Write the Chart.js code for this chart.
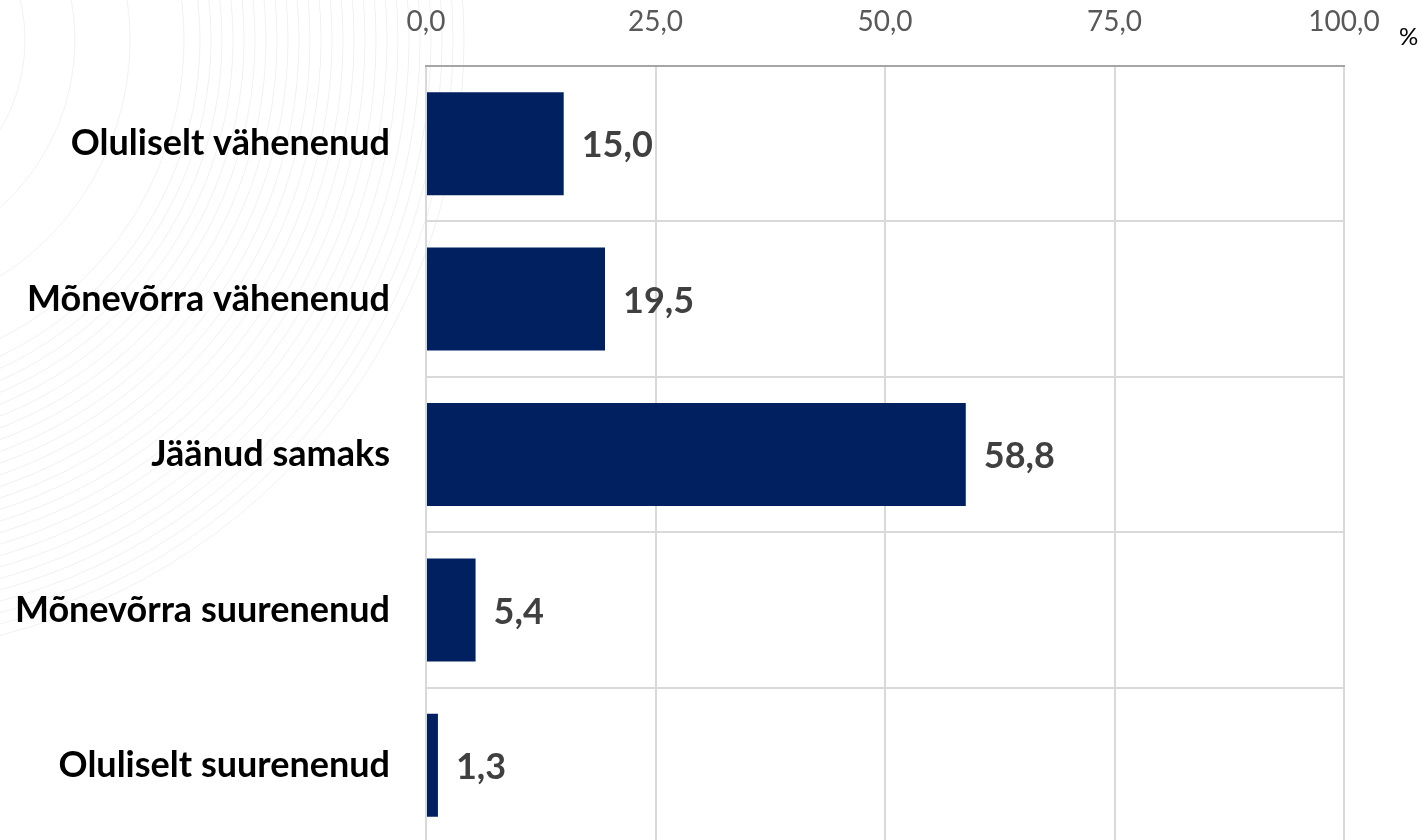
<!DOCTYPE html>
<html>
<head>
<meta charset="utf-8">
<script src="https://cdn.jsdelivr.net/npm/chart.js@4"></script>
<style>
  html, body { margin: 0; padding: 0; background: #fff; overflow: hidden; }
  canvas { display: block; }
</style>
</head>
<body>
<canvas id="bars" width="1424" height="846"></canvas>
<script>
var categories = ['Oluliselt vähenenud', 'Mõnevõrra vähenenud', 'Jäänud samaks', 'Mõnevõrra suurenenud', 'Oluliselt suurenenud'];
var values = [15.0, 19.5, 58.8, 5.4, 1.3];
var tickValues = [0, 25, 50, 75, 100];
var unitLabel = '%';

function fmt(v) {
    return v.toFixed(1).replace('.', ',');
}

// faint arcs in the background (decoration of the original slide)
var backdrop = {
    id: 'backdrop',
    beforeDraw: function(chart) {
	var c = chart.ctx;
	c.save();
	c.strokeStyle = 'rgba(0,0,0,0.06)';
	c.lineWidth = 1;
	var radii = [175, 225, 280, 334];
	for (var r = 350; r <= 620; r += 11) radii.push(r);
	radii.forEach(function(r) {
	    c.beginPath();
	    c.arc(-150, 40, r, -Math.PI / 2, Math.PI / 2);
	    c.stroke();
	});
	c.restore();
    }
};

// value labels next to bars and the % sign
var valueLabels = {
    id: 'valueLabels',
    afterDatasetsDraw: function(chart) {
	var c = chart.ctx;
	var meta = chart.getDatasetMeta(0);
	c.save();
	c.font = 'bold 36px Lato';
	c.fillStyle = '#404040';
	c.textBaseline = 'middle';
	c.textAlign = 'left';
	meta.data.forEach(function(bar, i) {
	    c.fillText(fmt(values[i]), bar.x + 18, bar.y + 2);
	});
	c.font = '24px Lato';
	c.fillStyle = '#000';
	c.fillText(unitLabel, 1399, 37);
	c.restore();
    }
};

var ctx = document.getElementById('bars');
var chart = new Chart(ctx, {
    type: 'bar',
    data: {
	labels: categories,
	datasets: [{
	    data: values,
	    backgroundColor: '#002060',
	    borderWidth: 0,
	    barPercentage: 0.663,
	    categoryPercentage: 1
	}]
    },
    options: {
	indexAxis: 'y',
	animation: false,
	responsive: false,
	layout: { padding: { left: 0, right: 80, top: 0, bottom: 3 } },
	scales: {
	    x: {
		position: 'top',
		min: 0,
		max: 100,
		afterFit: function(s) {
		    s.height = 66;
		    s.paddingLeft = 0;
		    s.paddingRight = 0;
		},
		afterBuildTicks: function(s) {
		    s.ticks = tickValues.map(function(v) { return { value: v }; });
		},
		ticks: {
		    color: '#595959',
		    font: { family: 'Lato', size: 28 },
		    padding: 27,
		    maxRotation: 0,
		    callback: function(v) { return fmt(v); }
		},
		grid: { color: '#d9d9d9', lineWidth: 2, drawTicks: false },
		border: { display: true, color: '#a6a6a6', width: 2 }
	    },
	    y: {
		afterFit: function(s) {
		    s.width = 426;
		    s.paddingTop = 0;
		    s.paddingBottom = 0;
		},
		ticks: {
		    color: '#000',
		    font: { family: 'Lato', size: 36, weight: 'bold' },
		    padding: 36
		},
		grid: {
		    offset: true,
		    drawTicks: false,
		    lineWidth: 2,
		    color: function(c) { return c.index === 0 ? 'rgba(0,0,0,0)' : '#d9d9d9'; }
		},
		border: { display: false }
	    }
	},
	plugins: {
	    legend: { display: false },
	    tooltip: { enabled: false }
	}
    },
    plugins: [backdrop, valueLabels]
});
</script>
</body>
</html>
